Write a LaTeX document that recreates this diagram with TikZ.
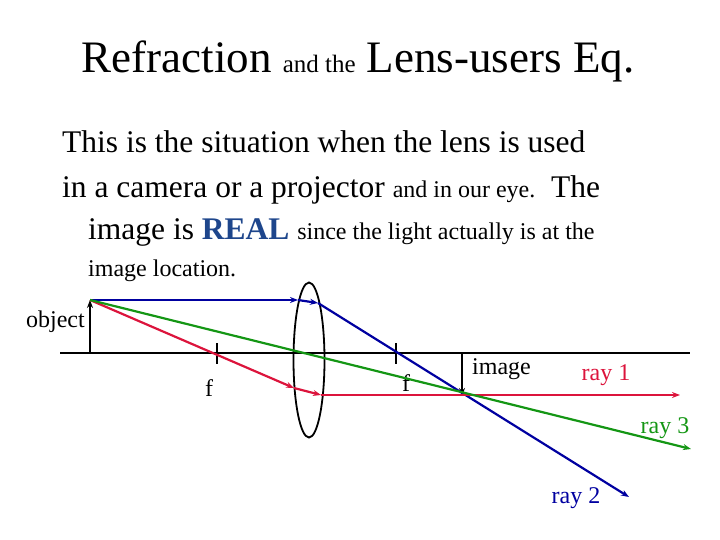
\documentclass[tikz,border=0pt]{standalone}
\usepackage{fontspec}
\setmainfont{Liberation Serif}
\usetikzlibrary{arrows.meta,shapes.geometric}
\definecolor{rred}{RGB}{220,20,60}
\definecolor{rblue}{RGB}{0,0,160}
\definecolor{rgreen}{RGB}{20,150,20}
\definecolor{realblue}{RGB}{30,70,140}
\begin{document}
\begin{tikzpicture}[x=1pt,y=-1pt,
  ray/.style={line width=2.2pt,-{Stealth[length=8pt,width=6pt]}},
  lbl/.style={inner sep=0pt,font=\fontsize{24}{26}\selectfont},
  txt/.style={inner sep=0pt,anchor=base west}]
\useasboundingbox (0,0) rectangle (720,540);
% title
\node[inner sep=0pt,anchor=base] (title) at (358,73) {\fontsize{45}{48}\selectfont Refraction {\fontsize{25}{28}\selectfont and the} Lens-users Eq.};
\node[txt] (l1) at (62,153) {\fontsize{31.5}{34}\selectfont This is the situation when the lens is used};
\node[txt] (l2) at (62,198) {\fontsize{31.5}{34}\selectfont in a camera or a projector {\fontsize{24}{26}\selectfont and in our eye.}\, The};
\node[txt] (l3) at (88,240) {\fontsize{31.5}{34}\selectfont image is {\bfseries\color{realblue}REAL} {\fontsize{24}{26}\selectfont since the light actually is at the}};
\node[txt] (l4) at (88,276) {\fontsize{24}{26}\selectfont image location.};
% axis
\coordinate (ax1) at (60,353); \coordinate (ax2) at (690,353);
\draw[line width=1.8pt] (ax1) -- (ax2);
% object
\coordinate (ob) at (90,353); \coordinate (ot) at (90,300);
\draw[line width=1.5pt,-{Stealth[length=8pt,width=6pt]}] (ob) -- (ot);
\node[lbl,anchor=east] (objl) at (85,322) {object};
% lens
\node[draw,line width=1.8pt,ellipse,minimum width=31pt,minimum height=155pt,inner sep=0pt] (lens) at (309,360) {};
% ticks
\coordinate (f1a) at (217,343); \coordinate (f1b) at (217,364);
\coordinate (f2a) at (396,343); \coordinate (f2b) at (396,364);
\draw[line width=1.5pt] (f1a) -- (f1b);
\draw[line width=1.5pt] (f2a) -- (f2b);
\node[lbl] (fl1) at (209,388) {f};
\node[lbl] (fl2) at (406,383) {f};
% image
\coordinate (ib) at (462,353); \coordinate (it) at (462,396);
\draw[line width=1.5pt,-{Stealth[length=8pt,width=6pt]}] (ib) -- (it);
\node[lbl,anchor=west] (imgl) at (472,369) {image};
% rays
\coordinate (b1) at (298,300); \coordinate (b2) at (318,303); \coordinate (b3) at (629,497);
\draw[ray,rblue] (ot) -- (b1);
\draw[ray,rblue] (b1) -- (b2);
\draw[ray,rblue] (b2) -- (b3);
\coordinate (r1) at (294,388); \coordinate (r2) at (321,395); \coordinate (r3) at (680,395);
\draw[ray,rred] (ot) -- (r1);
\draw[ray,rred] (r1) -- (r2);
\draw[ray,rred] (r2) -- (r3);
\coordinate (g1) at (691,449);
\draw[ray,rgreen] (ot) -- (g1);
\node[lbl,rred] (ray1) at (606,375) {ray 1};
\node[lbl,rgreen] (ray3) at (665,428) {ray 3};
\node[lbl,rblue] (ray2) at (576,498) {ray 2};
\end{tikzpicture}
\end{document}
